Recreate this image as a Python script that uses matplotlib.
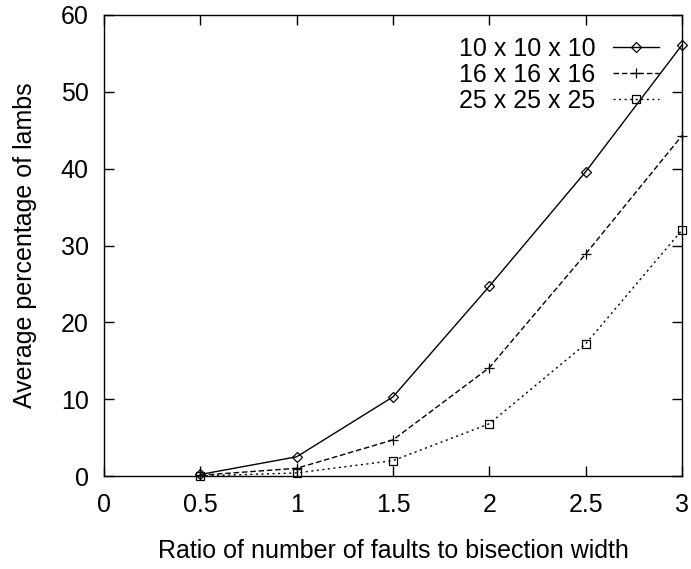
import matplotlib.pyplot as plt
from matplotlib.legend_handler import HandlerLine2D

plt.rcParams['font.family'] = ['Liberation Sans', 'DejaVu Sans']

# Data
ratio = [0.5, 1.0, 1.5, 2.0, 2.5, 3.0]
pct_10 = [0.2, 2.5, 10.3, 24.7, 39.6, 56.1]
pct_16 = [0.1, 1.0, 4.7, 14.1, 28.9, 44.3]
pct_25 = [0.0, 0.4, 2.0, 6.8, 17.2, 32.0]
labels = ['10 x 10 x 10', '16 x 16 x 16', '25 x 25 x 25']
xticks = [0, 0.5, 1, 1.5, 2, 2.5, 3]
xticklabels = ['0', '0.5', '1', '1.5', '2', '2.5', '3']
yticks = [0, 10, 20, 30, 40, 50, 60]


class SampleHandler(HandlerLine2D):
    # gnuplot-style key sample: marker sits left of the line's middle
    def get_xdata(self, legend, xdescent, ydescent, width, height, fontsize):
        xdata = [-xdescent, -xdescent + width]
        return xdata, [-xdescent + width * 0.33]


fig = plt.figure(figsize=(6.91, 5.69), dpi=100)
ax = fig.add_axes([104 / 691, 1 - 476 / 569, (682 - 104) / 691, (476 - 15) / 569])

ax.plot(ratio, pct_10, color='black', lw=1, ls='-', marker='D', ms=5,
        mfc='none', mew=0.9, label=labels[0], clip_on=False)
ax.plot(ratio, pct_16, color='black', lw=1, ls=(0, (4, 2)), marker='+', ms=7,
        mew=0.9, label=labels[1], clip_on=False)
ax.plot(ratio, pct_25, color='black', lw=1, ls=(0, (1.5, 2.5)), marker='s', ms=6,
        mfc='none', mew=0.9, label=labels[2], clip_on=False)

ax.set_xlim(0, 3)
ax.set_ylim(0, 60)
ax.set_xticks(xticks)
ax.set_xticklabels(xticklabels)
ax.set_yticks(yticks)
ax.tick_params(direction='in', top=True, right=True, length=7, width=1,
               labelsize=18)
ax.tick_params(axis='y', pad=11)
ax.tick_params(axis='x', pad=12)
for s in ax.spines.values():
    s.set_linewidth(1)

ax.set_xlabel('Ratio of number of faults to bisection width', fontsize=18, labelpad=16)
ax.set_ylabel('Average percentage of lambs', fontsize=18, labelpad=17)

ax.legend(loc='upper right', frameon=False, markerfirst=False, fontsize=18,
          handlelength=1.85, handletextpad=0.7, labelspacing=0.08,
          bbox_to_anchor=(0.960, 0.952), borderaxespad=0, borderpad=0,
          handler_map={plt.Line2D: SampleHandler()})

fig.savefig('out.png', dpi=100)
